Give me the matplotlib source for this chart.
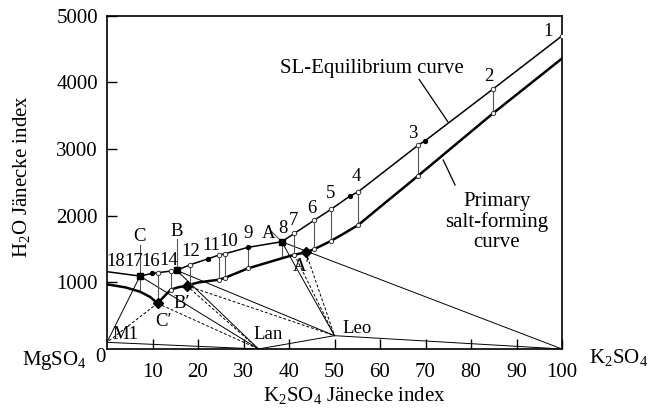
import matplotlib
matplotlib.use('Agg')
import matplotlib.pyplot as plt
import numpy as np

plt.rcParams['font.family'] = ['Liberation Serif', 'DejaVu Serif']
plt.rcParams['mathtext.fontset'] = 'custom'
plt.rcParams['mathtext.rm'] = 'Liberation Serif'

# SL-equilibrium curve (K2SO4 Jänecke index, H2O Jänecke index)
sl_x = [0, 7.25, 9.8, 11.1, 14.0, 15.3, 18.2, 22.3, 24.6, 26.0, 31.0, 38.4,
        41.2, 45.6, 49.2, 53.4, 55.2, 68.4, 69.9, 84.8, 100]
sl_y = [1160, 1094, 1133, 1144, 1169, 1180, 1262, 1355, 1410, 1430, 1525, 1609,
        1735, 1934, 2094, 2294, 2358, 3058, 3123, 3898, 4697]
# primary salt-forming curve
ps_x = [0, 4.0, 7.25, 9.5, 11.1, 14.0, 15.6, 17.5, 18.2, 20.2, 24.6, 26.0, 31.0,
        38.4, 41.2, 43.7, 45.6, 49.2, 52.0, 55.2, 60.0, 68.4, 84.8, 100]
ps_y = [970, 925, 860, 780, 685, 890, 925, 950, 965, 1000, 1040, 1070, 1210,
        1360, 1415, 1450, 1500, 1620, 1730, 1859, 2130, 2600, 3533, 4358]

open_sl = [11.1, 14.0, 18.2, 24.6, 26.0, 41.2, 45.6, 49.2, 55.2, 68.4, 84.8, 100]
dot_sl = [9.8, 22.3, 31.0, 53.4, 69.9]
tie_x = [7.25, 11.1, 14.0, 18.2, 24.6, 26.0, 31.0, 38.4, 41.2, 45.6, 49.2, 55.2, 68.4, 84.8]
open_ps = [14.0, 18.2, 24.6, 26.0, 31.0, 41.2, 45.6, 49.2, 55.2, 68.4, 84.8]

# invariant points and primary salt-forming points
inv = {'A': (38.4, 1609), 'B': (15.3, 1180), 'C': (7.25, 1094)}
prim = {"A'": (43.7, 1450), "B'": (17.5, 950), "C'": (11.1, 685)}
# solid phases
phase = {'M1': (0, 100), 'Lan': (33.3, 0), 'Leo': (50, 200), 'K2SO4': (100, 0)}

solid_links = [('C', 'M1'), ('C', 'Lan'), ('B', 'Lan'), ('B', 'Leo'), ('A', 'Leo'), ('A', 'K2SO4')]
dashed_links = [("C'", 'M1'), ("C'", 'Lan'), ("B'", 'Lan'), ("B'", 'Leo'), ("A'", 'Leo')]
phase_links = [('M1', 'Lan'), ('Lan', 'Leo'), ('Leo', 'K2SO4')]

pt_labels = ['1', '2', '3', '4', '5', '6', '7', '8', 'A', '9', '10', '11', '12',
             'B', 'C', '14', '16', '17', '18']
pt_lx = [97.0, 84.0, 67.3, 54.9, 49.2, 45.0, 40.9, 38.6, 35.5, 31.1, 26.7, 22.9, 18.5,
         15.3, 7.1, 13.6, 9.7, 5.9, 2.0]
pt_ly = [4760, 4085, 3236, 2595, 2336, 2111, 1935, 1811, 1736, 1736, 1610, 1560, 1460,
         1760, 1685, 1335, 1310, 1310, 1310]

xticks = [10, 20, 30, 40, 50, 60, 70, 80, 90, 100]
yticks = [1000, 2000, 3000, 4000, 5000]

W, H = 648, 408
fig = plt.figure(figsize=(W / 100, H / 100), dpi=100)
ax = fig.add_axes([107 / W, 1 - 349 / H, (562 - 107) / W, (349 - 15.7) / H])
ax.set_xlim(0, 100)
ax.set_ylim(0, 5000)

def P(k):
    if k in inv:
        return inv[k]
    if k in prim:
        return prim[k]
    return phase[k]

thin = 0.7
for a, b in solid_links + phase_links:
    (x0, y0), (x1, y1) = P(a), P(b)
    ax.plot([x0, x1], [y0, y1], color='black', lw=thin, zorder=2)
for a, b in dashed_links:
    (x0, y0), (x1, y1) = P(a), P(b)
    ax.plot([x0, x1], [y0, y1], color='black', lw=thin, ls=(0, (3, 2)), zorder=2)
# extra dashed line from tie point 7 to Leo
i7 = ps_x.index(41.2)
ax.plot([ps_x[i7], phase['Leo'][0]], [ps_y[i7], phase['Leo'][1]], color='black',
        lw=thin, ls=(0, (3, 2)), zorder=2)

# tie lines
for tx in tie_x:
    yu = sl_y[sl_x.index(tx)]
    yl = ps_y[ps_x.index(tx)]
    ax.plot([tx, tx], [yl, yu], color='#555555', lw=0.8, zorder=2)

ax.plot(sl_x, sl_y, color='black', lw=1.1, zorder=3)
ax.plot(ps_x, ps_y, color='black', lw=1.8, zorder=3)

ax.plot(open_sl, [sl_y[sl_x.index(v)] for v in open_sl], 'o', ms=3.2, mfc='white',
        mec='#333333', mew=0.7, zorder=4)
ax.plot(open_ps, [ps_y[ps_x.index(v)] for v in open_ps], 'o', ms=3.0, mfc='white',
        mec='#333333', mew=0.7, zorder=4)
ax.plot(dot_sl, [sl_y[sl_x.index(v)] for v in dot_sl], 'o', ms=2.8, color='black', zorder=4)
ax.plot([v[0] for v in inv.values()], [v[1] for v in inv.values()], 's', ms=5.0,
        color='black', zorder=5)
ax.plot([v[0] for v in prim.values()], [v[1] for v in prim.values()], 'D', ms=4.8,
        color='black', zorder=5)

# label leader lines
ax.plot([7.25, 7.25], [1094, 1560], color='#555555', lw=0.8, zorder=2)
ax.plot([15.3, 15.3], [1180, 1645], color='#555555', lw=0.8, zorder=2)
ax.plot([36.2, 37.9], [1760, 1646], color='#555555', lw=0.8, zorder=2)
ax.plot([68.6, 74.9], [4045, 3410], color='black', lw=0.9, zorder=2)
ax.plot([73.9, 76.5], [2835, 2460], color='black', lw=0.9, zorder=2)

fs = 15
lfs = 13.5
for t, x, y in zip(pt_labels, pt_lx, pt_ly):
    ax.text(x, y, t, fontsize=lfs, ha='center', va='center', zorder=6)
ax.text(42.8, 1235, "A′", fontsize=lfs, ha='center', va='center', zorder=6)
ax.text(16.4, 686, "B′", fontsize=lfs, ha='center', va='center', zorder=6)
ax.text(12.4, 410, "C′", fontsize=lfs, ha='center', va='center', zorder=6)
ax.text(4.0, 215, 'M1', fontsize=lfs, ha='center', va='center', zorder=6)
ax.text(35.5, 215, 'Lan', fontsize=lfs, ha='center', va='center', zorder=6)
ax.text(54.9, 310, 'Leo', fontsize=lfs, ha='center', va='center', zorder=6)
ax.text(58.2, 4201, 'SL-Equilibrium curve', fontsize=fs, ha='center', va='center')
ax.text(85.7, 1905, 'Primary\nsalt-forming\ncurve', fontsize=fs, ha='center',
        va='center', linespacing=1.05)

ax.set_xticks(xticks)
ax.set_xticklabels([str(v) for v in xticks])
ax.set_yticks(yticks)
ax.set_yticklabels([str(v) for v in yticks])
ax.tick_params(axis='both', direction='in', length=7, width=1.0, labelsize=fs)
ax.tick_params(axis='x', pad=10)
ax.tick_params(axis='y', pad=6.5)
for s in ax.spines.values():
    s.set_linewidth(1.2)

fig.text(100 / W, 1 - 358 / H, '0', fontsize=fs, ha='center', va='center')
fig.text(54.7 / W, 1 - 360 / H, r'MgSO$_\mathregular{4}$', fontsize=fs, ha='center', va='center')
fig.text(619 / W, 1 - 358 / H, r'K$_\mathregular{2}$SO$_\mathregular{4}$', fontsize=fs, ha='center', va='center')
fig.text(354 / W, 1 - 396 / H, r'K$_\mathregular{2}$SO$_\mathregular{4}$ Jänecke index', fontsize=fs,
         ha='center', va='center')
fig.text(22 / W, 1 - 177 / H, r'H$_\mathregular{2}$O Jänecke index', fontsize=fs,
         ha='center', va='center', rotation=90)

fig.savefig('out.png', dpi=100)
